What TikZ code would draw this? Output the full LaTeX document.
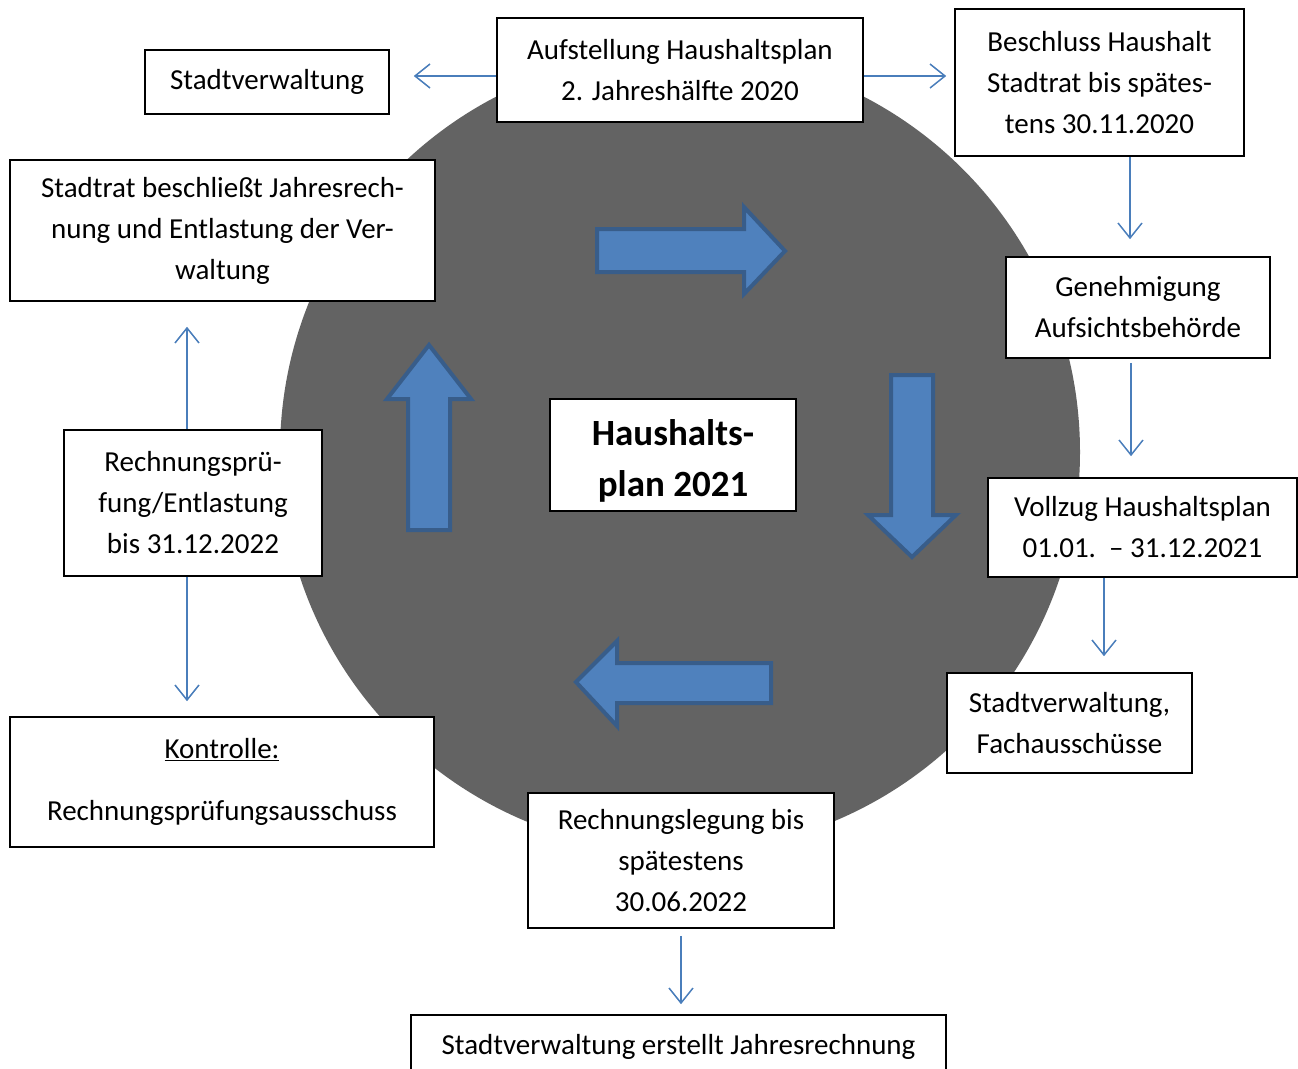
\documentclass[tikz,border=0pt]{standalone}
\usepackage{fontspec}
\setmainfont{Carlito}
\usetikzlibrary{arrows.meta}
\definecolor{discgray}{RGB}{99,99,99}
\definecolor{connblue}{RGB}{74,126,187}
\definecolor{bafill}{RGB}{79,129,189}
\definecolor{badraw}{RGB}{56,93,138}
\begin{document}
\begin{tikzpicture}[x=1pt,y=-1pt,
  box/.style={draw=black,fill=white,line width=1.6pt,align=center,inner sep=0pt,
    font=\fontsize{29}{41}\selectfont},
  conn/.style={draw=connblue,line width=1.5pt,-{Straight Barb[length=15pt,width=24pt,line width=1.5pt]}},
  blockarrow/.style={fill=bafill,draw=badraw,line width=4pt,line join=miter}]
\useasboundingbox (0,0) rectangle (1298,1068);
\clip (0,0) rectangle (1298,1068);
\fill[discgray] (680,452) circle (400);

% block arrows
\path[blockarrow] (597,229) -- (744,229) -- (744,207) -- (785,251) -- (744,294) -- (744,272) -- (597,272) -- cycle;
\path[blockarrow] (891,375) -- (933,375) -- (933,515) -- (956,515) -- (912,557) -- (868,515) -- (891,515) -- cycle;
\path[blockarrow] (771,663) -- (617,663) -- (617,641) -- (576,682) -- (617,726) -- (617,703) -- (771,703) -- cycle;
\path[blockarrow] (408,530) -- (408,399) -- (387,399) -- (429,345) -- (471,399) -- (450,399) -- (450,530) -- cycle;

% boxes
\node[box,minimum width=244,minimum height=64] (stv) at (267,82) {Stadtverwaltung};
\node[box,minimum width=366,minimum height=104] (aufst) at (680,70) {Aufstellung Haushaltsplan\\2. Jahreshälfte 2020};
\node[box,minimum width=289,minimum height=147] (beschl) at (1099.5,82.5) {Beschluss Haushalt\\Stadtrat bis spätes-\\tens 30.11.2020};
\node[box,minimum width=425,minimum height=141] (sr) at (222.5,230.5) {Stadtrat beschließt Jahresrech-\\nung und Entlastung der Ver-\\waltung};
\node[box,minimum width=264,minimum height=101] (genehm) at (1138,307.5) {Genehmigung\\Aufsichtsbehörde};
\node[box,minimum width=246,minimum height=112,font=\fontsize{37}{51}\selectfont\bfseries] (hp) at (673,455) {\rule{0pt}{38pt}Haushalts-\\plan 2021};
\node[box,minimum width=258,minimum height=146] (rp) at (193,503) {Rechnungsprü-\\fung/Entlastung\\bis 31.12.2022};
\node[box,minimum width=309,minimum height=99] (vollzug) at (1142.5,527.5) {Vollzug Haushaltsplan\\01.01.~~–~31.12.2021};
\node[box,minimum width=245,minimum height=100] (fach) at (1069.5,723) {Stadtverwaltung,\\Fachausschüsse};
\node[box,minimum width=424,minimum height=130] (kontr) at (222,782) {\underline{Kontrolle:}\\[21pt]Rechnungsprüfungsausschuss};
\node[box,minimum width=306,minimum height=135] (rl) at (681,860.5) {Rechnungslegung bis\\spätestens\\30.06.2022};
\node[box,minimum width=535,minimum height=64] (jr) at (678.5,1047) {Stadtverwaltung erstellt Jahresrechnung};

% connectors
\draw[conn,shorten >=24pt] ([yshift=-6pt]aufst.west) -- ([yshift=6pt]stv.east);
\draw[conn,shorten >=8pt] ([yshift=-6pt]aufst.east) -- ([yshift=6.5pt]beschl.west);
\draw[conn,shorten >=17pt] ([xshift=30.5pt]beschl.south) -- ([xshift=-8pt]genehm.north);
\draw[conn,shorten <=4pt,shorten >=21pt] ([xshift=-7pt]genehm.south) -- ([xshift=-11.5pt]vollzug.north);
\draw[conn,shorten >=16pt] ([xshift=-38.5pt]vollzug.south) -- ([xshift=34.5pt]fach.north);
\draw[conn,shorten <=7pt,shorten >=10pt] (rl.south) -- ([xshift=2.5pt]jr.north);
\draw[conn,shorten >=25pt] ([xshift=-6pt]rp.north) -- ([xshift=-35.5pt]sr.south);
\draw[conn,shorten >=15pt] ([xshift=-6pt]rp.south) -- ([xshift=-35pt]kontr.north);
\end{tikzpicture}
\end{document}
